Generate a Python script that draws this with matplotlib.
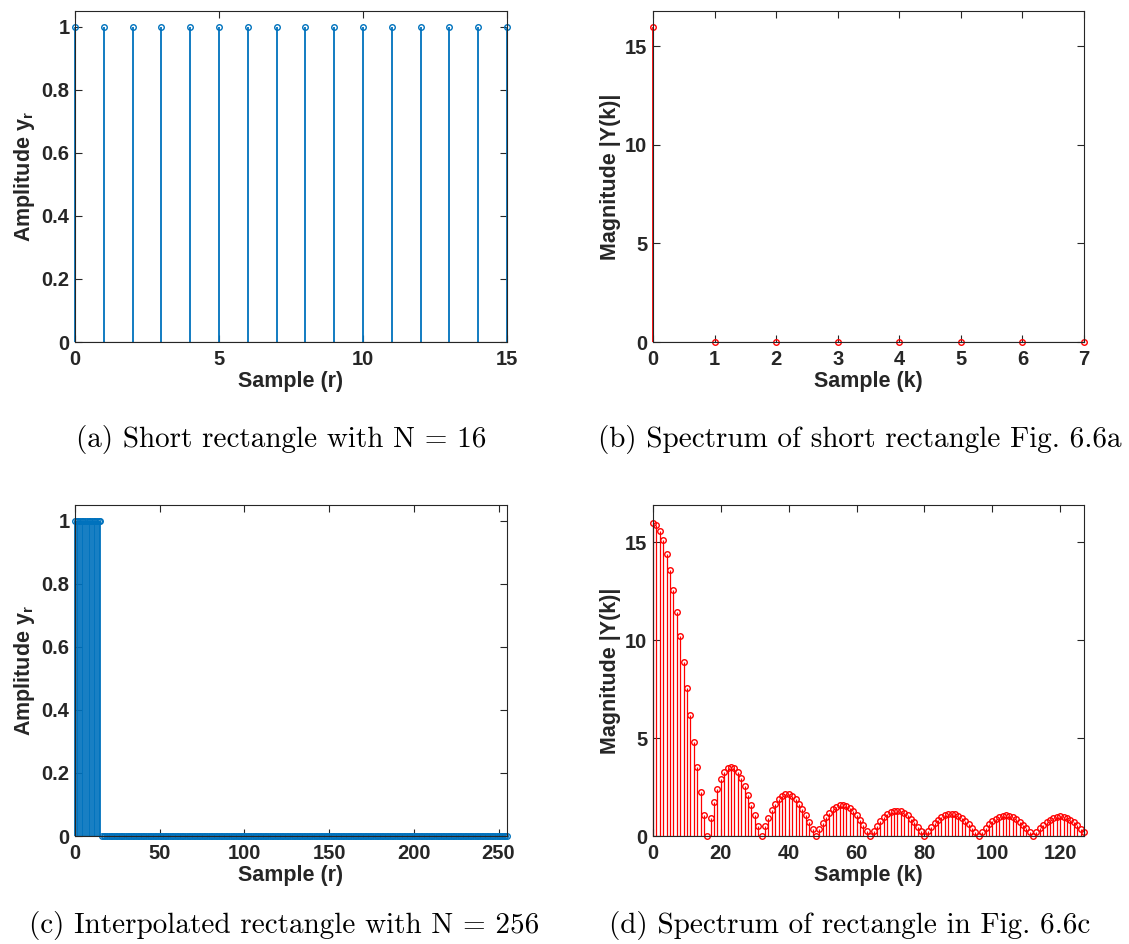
import matplotlib.pyplot as plt
import numpy as np

# (a) short rectangle, N = 16
r_short = list(range(16))
y_short = [1] * 16

# (b) spectrum of short rectangle
k_short = list(range(8))
mag_short = [16, 0, 0, 0, 0, 0, 0, 0]

# (c) interpolated rectangle, N = 256
r_long = list(range(256))
y_long = [1] * 16 + [0] * 240

# (d) spectrum of the interpolated rectangle
k_long = list(range(128))
mag_long = [
    16.00, 15.90, 15.59, 15.09, 14.41, 13.56, 12.56, 11.43,
    10.20, 8.90, 7.55, 6.18, 4.82, 3.50, 2.24, 1.07,
    0.00, 0.94, 1.75, 2.40, 2.91, 3.26, 3.46, 3.52,
    3.45, 3.25, 2.95, 2.56, 2.10, 1.60, 1.06, 0.53,
    0.00, 0.50, 0.94, 1.33, 1.65, 1.90, 2.06, 2.13,
    2.12, 2.03, 1.87, 1.65, 1.38, 1.06, 0.72, 0.36,
    0.00, 0.35, 0.67, 0.95, 1.19, 1.37, 1.50, 1.57,
    1.58, 1.52, 1.41, 1.26, 1.05, 0.82, 0.56, 0.28,
    0.00, 0.27, 0.53, 0.76, 0.95, 1.11, 1.22, 1.28,
    1.29, 1.26, 1.17, 1.05, 0.88, 0.69, 0.47, 0.24,
    0.00, 0.23, 0.45, 0.65, 0.82, 0.96, 1.06, 1.12,
    1.13, 1.11, 1.03, 0.93, 0.78, 0.61, 0.42, 0.21,
    0.00, 0.21, 0.41, 0.59, 0.75, 0.88, 0.97, 1.03,
    1.05, 1.02, 0.96, 0.86, 0.73, 0.57, 0.39, 0.20,
    0.00, 0.20, 0.39, 0.56, 0.72, 0.84, 0.93, 0.99,
    1.01, 0.98, 0.93, 0.83, 0.71, 0.56, 0.38, 0.20,
]

y_ticks_amp = [0, 0.2, 0.4, 0.6, 0.8, 1]
y_ticklabels_amp = ['0', '0.2', '0.4', '0.6', '0.8', '1']

BLUE = '#0072BD'
RED = '#FF0000'
AX = '#262626'

plt.rcParams['font.family'] = ['Liberation Sans', 'DejaVu Sans']
plt.rcParams['font.weight'] = 'bold'
plt.rcParams['mathtext.fontset'] = 'custom'
plt.rcParams['mathtext.rm'] = 'Liberation Sans:bold'
plt.rcParams['mathtext.it'] = 'Liberation Sans:bold'
plt.rcParams['mathtext.bf'] = 'Liberation Sans:bold'


def stem_panel(ax, x, y, color, xlim, ylim, xticks, yticks, xlabel, ylabel, lw=1.3, ms=4):
    markers, stems, base = ax.stem(x, y, linefmt='-', markerfmt='o', basefmt='-')
    plt.setp(stems, color=color, linewidth=lw)
    plt.setp(markers, markeredgecolor=color, markerfacecolor='none', markersize=ms, markeredgewidth=1.0)
    plt.setp(base, color=AX, linewidth=0.8)
    ax.set_xlim(*xlim)
    ax.set_ylim(*ylim)
    ax.set_xticks(xticks)
    ax.set_yticks(yticks)
    ax.tick_params(direction='in', top=True, right=True, length=5, width=0.8,
                   colors=AX, labelsize=14.5)
    ax.tick_params(axis='x', pad=6)
    ax.tick_params(axis='y', pad=4)
    for sp in ax.spines.values():
        sp.set_color(AX)
        sp.set_linewidth(0.8)
    ax.set_xlabel(xlabel, fontsize=15.5, fontweight='bold', color=AX, labelpad=1)
    ax.set_ylabel(ylabel, fontsize=15.5, fontweight='bold', color=AX, labelpad=3)
    for m in (markers, stems):
        m.set_clip_on(False)


fig = plt.figure(figsize=(11.29, 9.44), dpi=100)
W, H = 1129, 944


def add_ax(left, top, right, bottom):
    return fig.add_axes([left / W, 1 - bottom / H, (right - left) / W, (bottom - top) / H])


ax_a = add_ax(75, 11, 507, 342)
ax_b = add_ax(653, 11, 1084, 342)
ax_c = add_ax(75, 505, 507, 836)
ax_d = add_ax(653, 505, 1084, 836)

stem_panel(ax_a, r_short, y_short, BLUE, (0, 15), (0, 1.05), [0, 5, 10, 15],
           y_ticks_amp, 'Sample (r)', r'Amplitude y$_\mathregular{r}$')
stem_panel(ax_b, k_short, mag_short, RED, (0, 7), (0, 16.8), list(range(8)),
           [0, 5, 10, 15], 'Sample (k)', 'Magnitude |Y(k)|')
stem_panel(ax_c, r_long, y_long, BLUE, (0, 255), (0, 1.05), [0, 50, 100, 150, 200, 250],
           y_ticks_amp, 'Sample (r)', r'Amplitude y$_\mathregular{r}$')
stem_panel(ax_d, k_long, mag_long, RED, (0, 127), (0, 16.9), [0, 20, 40, 60, 80, 100, 120],
           [0, 5, 10, 15], 'Sample (k)', 'Magnitude |Y(k)|', lw=0.9)

for ax in (ax_a, ax_c):
    ax.set_yticklabels(y_ticklabels_amp, fontweight='bold')

cap = dict(fontfamily='cmr10', fontsize=21, ha='center', va='center', color='black')
fig.text(281 / W, 1 - 439 / H, '(a) Short rectangle with N = 16', **cap)
fig.text(860 / W, 1 - 439 / H, '(b) Spectrum of short rectangle Fig. 6.6a', **cap)
fig.text(284 / W, 1 - 926 / H, '(c) Interpolated rectangle with N = 256', **cap)
fig.text(850 / W, 1 - 926 / H, '(d) Spectrum of rectangle in Fig. 6.6c', **cap)

fig.savefig('out.png', dpi=100)
